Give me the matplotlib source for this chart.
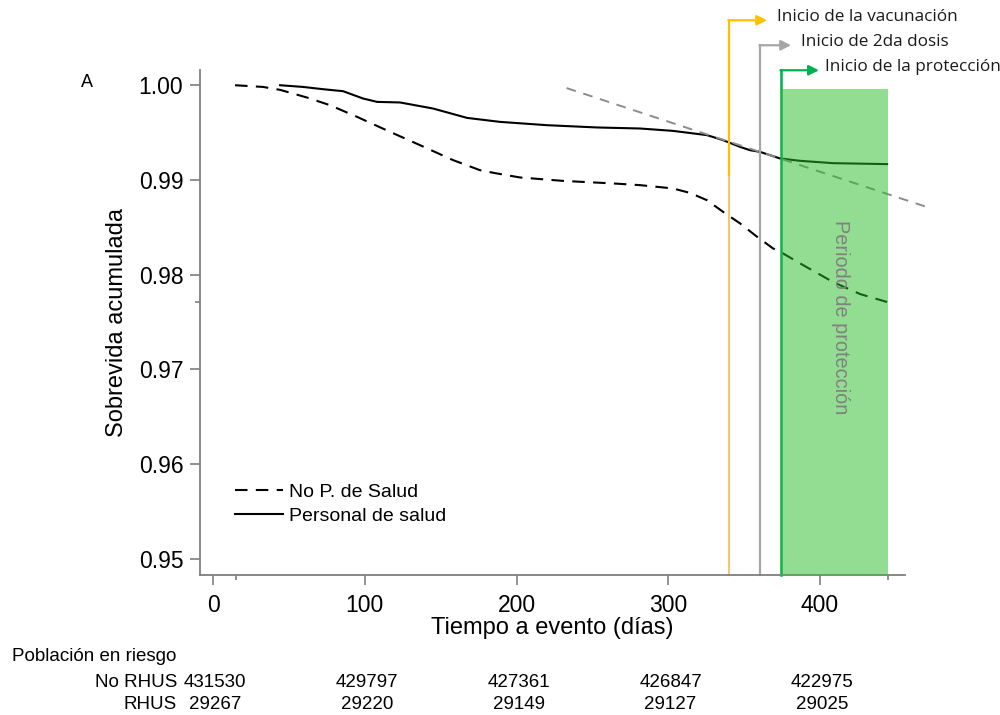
import matplotlib.pyplot as plt
import matplotlib.transforms as mtransforms
from matplotlib.patches import Rectangle

plt.rcParams['font.family'] = ['Liberation Sans', 'DejaVu Sans']

# Kaplan-Meier curves (days, cumulative survival)
days_no = [14.5, 32.9, 44.2, 61.9, 77.1, 94.9, 116.6, 136.4, 158.2, 175.9, 185.8,
           202.3, 230.6, 263.6, 281.4, 303.1, 314.3, 325.5, 336.1, 347.3, 358.5,
           369.0, 375.6, 386.8, 408.6, 426.4, 444.2]
surv_no = [1.0000, 0.99982, 0.99951, 0.99870, 0.99789, 0.99666, 0.99508, 0.99367,
           0.99209, 0.99103, 0.99072, 0.99026, 0.98990, 0.98963, 0.98945, 0.98910,
           0.98863, 0.98786, 0.98663, 0.98541, 0.98400, 0.98277, 0.98224, 0.98119,
           0.97922, 0.97795, 0.97711]

days_ps = [44.2, 59.3, 72.5, 85.7, 98.8, 108.1, 123.2, 145.0, 167.4, 189.1, 220.1,
           253.0, 281.4, 303.1, 325.5, 336.1, 347.3, 353.9, 360.5, 373.6, 386.8,
           408.6, 444.2]
surv_ps = [1.0000, 0.99982, 0.99958, 0.99937, 0.99860, 0.99824, 0.99818, 0.99754,
           0.99655, 0.99613, 0.99578, 0.99554, 0.99543, 0.99518, 0.99473, 0.99420,
           0.99349, 0.99314, 0.99296, 0.99227, 0.99202, 0.99177, 0.99167]

trend_days = [233, 472.5]
trend_surv = [0.9997, 0.98703]

vac_day = 340
dose2_day = 360.5
prot_day = 374.3
end_day = 444.8

risk_days = [0, 100, 200, 300, 400]
risk_no = [431530, 429797, 427361, 426847, 422975]
risk_ps = [29267, 29220, 29149, 29127, 29025]

fig = plt.figure(figsize=(10, 7.15), dpi=100)
ax = fig.add_axes([0.2, 0.196, 0.705, 0.706])
ax.set_xlim(-8.6, 456)
ax.set_ylim(0.9483, 1.0016)

gray = '#7F7F7F'
for s in ['top', 'right']:
    ax.spines[s].set_visible(False)
for s in ['left', 'bottom']:
    ax.spines[s].set_color(gray)
    ax.spines[s].set_linewidth(1.3)

ax.plot(days_no, surv_no, color='black', lw=1.5, ls=(0, (6, 4)), label='No P. de Salud')
ax.plot(days_ps, surv_ps, color='black', lw=1.5, label='Personal de salud')
ax.plot(trend_days, trend_surv, color='#8C8C8C', lw=1.4, ls=(0, (5, 4)), clip_on=False)

# vertical markers
ax.plot([vac_day, vac_day], [0.9483, 0.99051], color='#EBCB73', lw=1.6, clip_on=False)
ax.plot([vac_day, vac_day], [0.99051, 1.00686], color='#FFC000', lw=1.6, clip_on=False)
ax.plot([dose2_day, dose2_day], [0.9483, 1.00422], color='#A6A6A6', lw=1.6, clip_on=False)
ax.plot([prot_day, prot_day], [0.9483, 1.00158], color='#00B050', lw=1.8, clip_on=False)

ax.add_patch(Rectangle((prot_day, 0.9483), end_day - prot_day, 0.99958 - 0.9483,
                       facecolor='#27BD27', alpha=0.5, edgecolor='none', zorder=3))

arrows = [(vac_day, 1.00686, 365.1, '#FFC000', 371.7, 'Inicio de la vacunación'),
          (dose2_day, 1.00422, 380.9, '#A6A6A6', 387.5, 'Inicio de 2da dosis'),
          (prot_day, 1.00158, 399.3, '#00B050', 403.3, 'Inicio de la protección')]
for x0, y0, x1, c, xt, label in arrows:
    ax.annotate('', xy=(x1, y0), xytext=(x0 - 0.4, y0), annotation_clip=False,
                arrowprops=dict(arrowstyle='-|>', color=c, lw=1.6, mutation_scale=15,
                                shrinkA=0, shrinkB=0))
    ax.text(xt, y0 + 0.0003, label, family=['Open Sans', 'DejaVu Sans'], fontsize=12.3,
            color='#1A1A1A', va='center', ha='left', clip_on=False)

ax.text(413.2, 0.97553, 'Periodo de protección', rotation=-90, color='#808080',
        fontsize=14.3, ha='center', va='center', zorder=4)

ax.set_yticks([0.95, 0.96, 0.97, 0.98, 0.99, 1.00])
ax.set_yticklabels(['0.95', '0.96', '0.97', '0.98', '0.99', '1.00'])
ax.set_yticks([0.9771], minor=True)
ax.set_xticks([0, 100, 200, 300, 400])
ax.set_xticks([15, 445], minor=True)
ax.tick_params(axis='both', which='major', colors=gray, labelcolor='black',
               labelsize=16.5, length=7, width=1.2)
ax.tick_params(axis='both', which='minor', colors=gray, length=3.5, width=1.2)
ax.tick_params(axis='y', which='major', pad=5)
ax.tick_params(axis='x', which='major', pad=7)

ax.set_xlabel('Tiempo a evento (días)', fontsize=17, labelpad=0)
ax.set_ylabel('Sobrevida acumulada', fontsize=17, labelpad=8)

ax.legend(loc='upper left', bbox_to_anchor=(0.05, 0.182), frameon=False, fontsize=14,
          handlelength=2.45, handletextpad=0.3, labelspacing=0.35, borderpad=0,
          borderaxespad=0)

fig.text(0.081, 0.885, 'A', fontsize=13, va='center')

# risk table
fig.text(0.012, 0.0825, 'Población en riesgo', fontsize=13.5, va='center')
fig.text(0.177, 0.0448, 'No RHUS', fontsize=13.5, va='center', ha='right')
fig.text(0.177, 0.014, 'RHUS', fontsize=13.5, va='center', ha='right')
trans = mtransforms.blended_transform_factory(ax.transData, fig.transFigure)
for d, a, b in zip(risk_days, risk_no, risk_ps):
    ax.text(d + 1.5, 0.0448, str(a), transform=trans, fontsize=13.5, ha='center', va='center')
    ax.text(d + 1.5, 0.014, str(b), transform=trans, fontsize=13.5, ha='center', va='center')

fig.savefig('out.png', dpi=100)
